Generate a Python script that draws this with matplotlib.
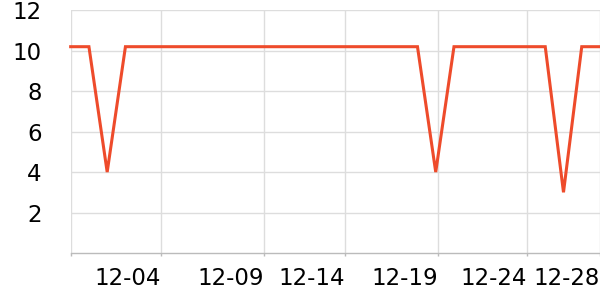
import matplotlib
matplotlib.use("Agg")
import matplotlib.pyplot as plt
import numpy as np

# Data
days = list(range(30))  # 30 daily points
values = [10.2, 10.2, 4, 10.2, 10.2, 10.2, 10.2, 10.2, 10.2, 10.2,
          10.2, 10.2, 10.2, 10.2, 10.2, 10.2, 10.2, 10.2, 10.2, 10.2,
          4, 10.2, 10.2, 10.2, 10.2, 10.2, 10.2, 3, 10.2, 10.2]
x_tick_values = [0, 4.96, 10.61, 15.03, 20.14, 24.98, 29]
x_tick_labels = ["", "12-04", "12-09", "12-14", "12-19", "12-24", "12-28"]
y_tick_values = [2, 4, 6, 8, 10, 12]

fig = plt.figure(figsize=(6, 3), dpi=100)
ax = fig.add_axes([0.1178, 0.1567, 1.0 - 0.1178, 0.9657 - 0.1567])

ax.plot(days, values, color="#ee4b2b", linewidth=2.2, solid_joinstyle="miter", zorder=3, clip_on=False)

ax.set_xlim(0, 29)
ax.set_ylim(0, 12)
ax.set_yticks(y_tick_values)
ax.set_xticks(x_tick_values)
ax.set_xticklabels(x_tick_labels, ha="right")

ax.grid(True, color="#dddddd", linewidth=1)
ax.set_axisbelow(True)

for s in ["top", "right", "left"]:
    ax.spines[s].set_visible(False)
ax.spines["bottom"].set_color("#bbbbbb")
ax.spines["bottom"].set_linewidth(1)

ax.tick_params(axis="y", length=0, pad=21, labelsize=16.5, labelcolor="black")
ax.tick_params(axis="x", length=2, width=1, color="#bbbbbb", pad=8, labelsize=16.5, labelcolor="black")

fig.savefig("out.png", dpi=100)
